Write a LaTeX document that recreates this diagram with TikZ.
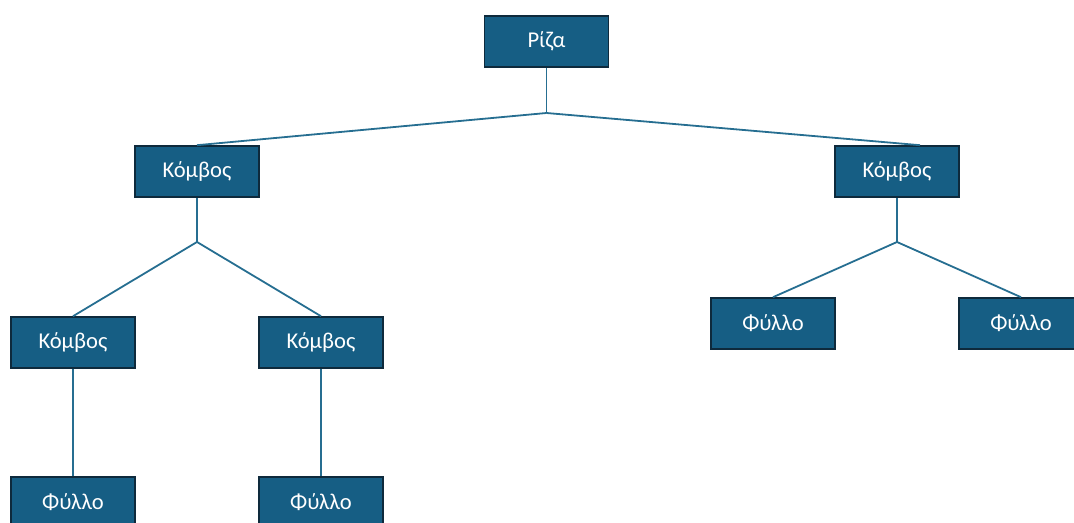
\documentclass[tikz,border=0pt]{standalone}
\usepackage{fontspec}
\setmainfont{Carlito}
\usetikzlibrary{positioning}
\definecolor{boxfill}{RGB}{22,94,132}
\definecolor{boxborder}{RGB}{14,42,60}
\definecolor{linkcol}{RGB}{38,110,145}

\begin{document}
\begin{tikzpicture}[
                x=0.5pt, y=-0.5pt,
                box/.style={rectangle, draw=boxborder, fill=boxfill, text=white, minimum width=62pt, minimum height=25.5pt, inner sep=0pt, line width=0.8pt, font=\fontsize{11.3}{13}\selectfont},
                link/.style={draw=linkcol, line width=0.9pt},
            ]
                \useasboundingbox (0,0) rectangle (1074,523);
                \clip (0,0) rectangle (1074,523);

                % Draw the root and the first level
                \node[box] (riza) at (546.5,41.5) {Ρίζα};
                \node[box] (k1) at (197,171.5) {Κόμβος};
                \node[box] (k2) at (897,171.5) {Κόμβος};

                % Draw the second level
                \foreach \name / \x in {k11/73, k12/321}
                    \node[box] (\name) at (\x,342.5) {Κόμβος};
                \foreach \name / \x in {f21/773, f22/1021}
                    \node[box] (\name) at (\x,323.5) {Φύλλο};

                % Draw the leaves at the bottom
                \foreach \name / \x in {f111/73, f121/321}
                    \node[box] (\name) at (\x,502.5) {Φύλλο};

                % Branch points
                \coordinate (j0) at (546.5,113);
                \coordinate (j1) at (197,242);
                \coordinate (j2) at (897,242);

                % Connect parents with their children
                \draw[link] (riza.south) -- (j0);
                \draw[link] (j0) -- (k1.north);
                \draw[link] (j0) -- ([xshift=11.5pt]k2.north);
                \draw[link] (k1.south) -- (j1);
                \foreach \dest in {k11, k12}
                    \draw[link] (j1) -- (\dest.north);
                \draw[link] (k2.south) -- (j2);
                \foreach \dest in {f21, f22}
                    \draw[link] (j2) -- (\dest.north);
                \draw[link] (k11) -- (f111);
                \draw[link] (k12) -- (f121);
            \end{tikzpicture}
\end{document}
